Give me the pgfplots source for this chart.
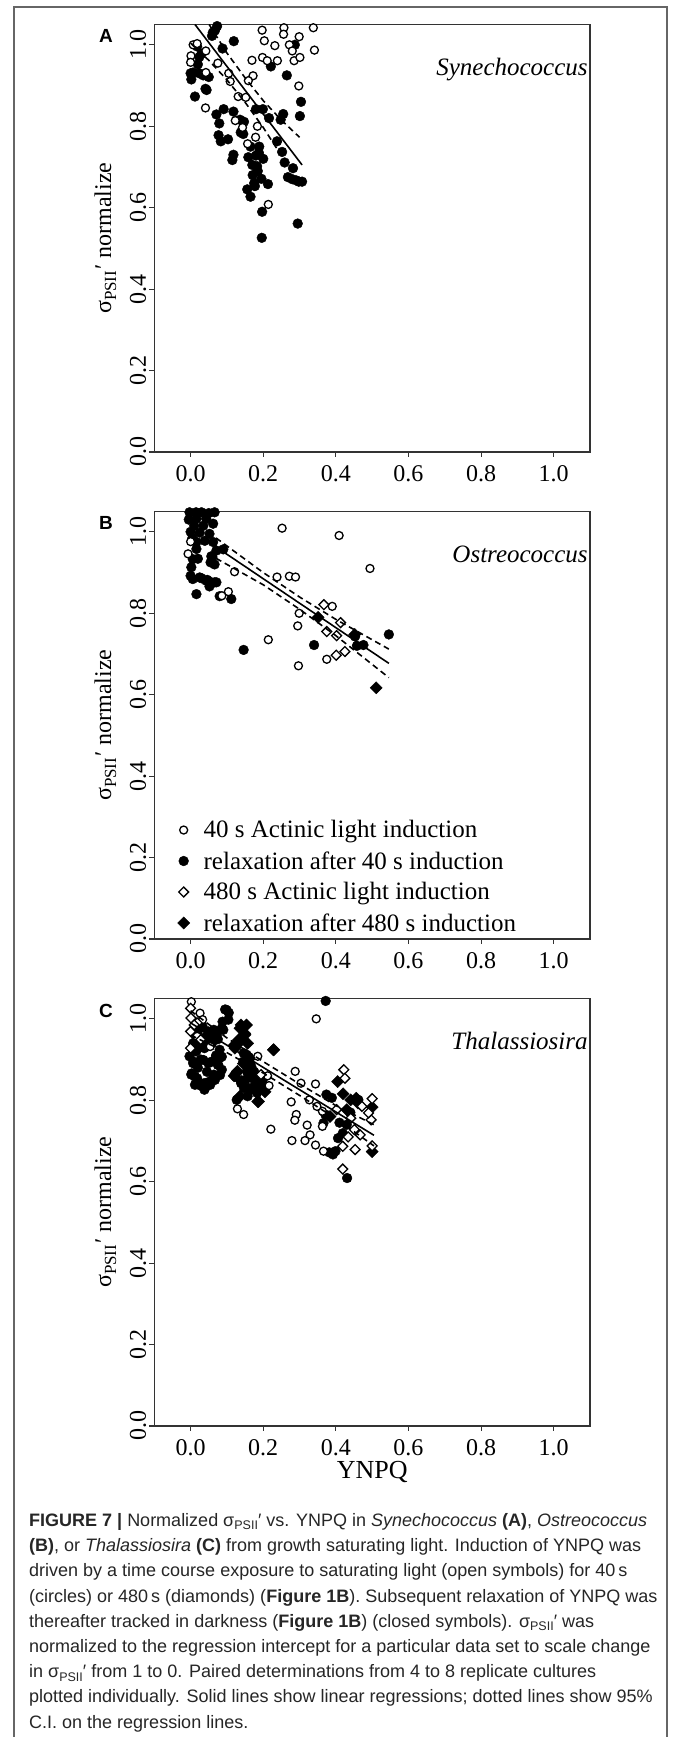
\documentclass[border=0pt]{standalone}
\usepackage{fontspec}
\setmainfont{Liberation Serif}
\newfontfamily\capfont{Liberation Sans}
\usepackage{pgfplots}
\pgfplotsset{compat=1.18}

\newcommand\sps{σ\raisebox{-3.5pt}{\fontsize{12.5}{12.5}\selectfont PSII}′}
\newcommand\spl{σ\raisebox{-5pt}{\fontsize{17}{17}\selectfont PSII}\kern1pt′}

\pgfplotsset{
 panel/.style={
  scale only axis, width=435.7pt, height=427.5pt,
  xmin=-0.1, xmax=1.1, ymin=0, ymax=1.05,
  clip mode=individual,
  xtick={0,0.2,0.4,0.6,0.8,1.0},
  xticklabels={0.0,0.2,0.4,0.6,0.8,1.0},
  ytick={0,0.2,0.4,0.6,0.8,1.0},
  yticklabels={0.0,0.2,0.4,0.6,0.8,1.0},
  xtick pos=lower, ytick pos=left,
  tick align=outside, major tick length=5pt,
  every tick/.style={black!80, line width=1.1pt},
  axis line style={black!80, line width=1.2pt},
  xticklabel style={font=\fontsize{24}{24}\selectfont, inner sep=8pt},
  yticklabel style={font=\fontsize{24}{24}\selectfont, rotate=90, anchor=south, inner sep=3pt},
  ylabel={\spl\ normalize},
  ylabel style={at={(axis description cs:-0.112,0.5)}, anchor=center, font=\fontsize{24}{24}\selectfont},
 },
 oc/.style={only marks, mark=*, mark size=4.0pt, mark options={draw=black, fill=white, line width=1.3pt}},
 fc/.style={only marks, mark=*, mark size=4.9pt, mark options={draw=black, fill=black, line width=0.4pt}},
 od/.style={only marks, mark=square*, mark size=3.5pt, mark options={rotate=45, draw=black, fill=white, line width=1.3pt}},
 fd/.style={only marks, mark=square*, mark size=4.3pt, mark options={rotate=45, draw=black, fill=black, line width=0.4pt}},
 reg/.style={black, line width=1.6pt, no marks},
 ci/.style={black, line width=1.6pt, dash pattern=on 6pt off 4pt, no marks},
}

\begin{document}
\begin{tikzpicture}[x=1pt,y=1pt]
\path[use as bounding box, fill=white] (0pt,0pt) rectangle (672pt,1737pt);
\draw[line width=1.3pt, black!60] (14pt,-5pt) -- (14pt,1730pt) -- (667pt,1730pt) -- (667pt,-5pt);

% ---------------- Panel A ----------------
\begin{axis}[panel, at={(154.3pt,1285pt)}, anchor=south west]
\addplot[fc] coordinates {
(0.000,0.930) (0.002,0.915) (0.012,0.873) (0.020,0.952) (0.024,0.970) (0.030,0.978)
(0.018,0.996) (0.035,0.925) (0.041,0.892) (0.050,0.921) (0.059,1.022) (0.067,1.035)
(0.073,1.046) (0.088,0.991) (0.119,1.009) (0.071,0.829) (0.079,0.807) (0.077,0.778)
(0.083,0.763) (0.091,0.842) (0.103,0.768) (0.118,0.836) (0.118,0.730) (0.115,0.717)
(0.136,0.816) (0.138,0.785) (0.147,0.811) (0.156,0.645) (0.165,0.627) (0.171,0.680)
(0.159,0.724) (0.165,0.750) (0.180,0.728) (0.183,0.702) (0.189,0.750) (0.195,0.671)
(0.177,0.653) (0.200,0.720) (0.213,0.658) (0.197,0.590) (0.196,0.526) (0.180,0.842)
(0.199,0.842) (0.216,0.820) (0.221,0.947) (0.238,0.763) (0.252,0.737) (0.259,0.711)
(0.248,0.816) (0.265,0.925) (0.268,0.675) (0.282,0.697) (0.287,1.000) (0.291,0.667)
(0.301,0.825) (0.304,0.860) (0.307,0.664) (0.295,0.561) (0.007,0.932) (0.024,0.930)
(0.044,0.889) (0.061,1.030) (0.145,0.781) (0.175,0.660) (0.185,0.690) (0.298,0.664)
(0.280,0.670) (0.255,0.830) (0.170,0.705) (0.188,0.735)
};
\addplot[oc] coordinates {
(0.001,0.973) (0.000,0.957) (0.007,1.000) (0.018,1.003) (0.042,0.985) (0.042,0.932)
(0.041,0.845) (0.075,0.955) (0.105,0.930) (0.109,0.910) (0.131,0.873) (0.152,0.871)
(0.123,0.814) (0.143,0.797) (0.157,0.757) (0.179,0.773) (0.184,0.800) (0.169,0.962)
(0.172,0.924) (0.197,1.036) (0.203,1.010) (0.198,0.969) (0.211,0.961) (0.232,0.998)
(0.239,0.961) (0.257,1.042) (0.256,1.026) (0.272,1.000) (0.280,0.985) (0.285,0.961)
(0.299,1.020) (0.301,0.969) (0.298,0.899) (0.338,1.042) (0.341,0.987) (0.214,0.608)
(0.159,0.912)
};
\addplot[reg] coordinates {(0.012,1.050) (0.307,0.705)};
\addplot[ci] coordinates {(0.051,1.050) (0.10,0.980) (0.15,0.919) (0.20,0.863) (0.25,0.815) (0.30,0.773)};
\addplot[ci] coordinates {(0.0,1.004) (0.05,0.962) (0.10,0.914) (0.15,0.859) (0.20,0.797) (0.25,0.728)};
\node[anchor=base east, inner sep=0pt, font=\itshape\fontsize{25}{25}\selectfont] at (axis description cs:0.995,0.881) {Synechococcus};
\node[font=\capfont\bfseries\fontsize{19}{19}\selectfont] at (axis description cs:-0.111,0.972) {A};
\end{axis}

% ---------------- Panel B ----------------
\begin{axis}[panel, at={(154.3pt,798pt)}, anchor=south west,
  legend style={at={(axis description cs:0.053,0.010)}, anchor=south west, draw=none, fill=none,
    inner sep=0pt, font=\fontsize{25}{25}\selectfont, row sep=8pt},
  legend image code/.code={\draw[#1] plot coordinates {(0pt,0pt)}; \path[draw=none, fill=none] (-5pt,-5pt) -- (18pt,5pt);},
  legend cell align=left]
\addlegendimage{oc}\addlegendentry{40 s Actinic light induction}
\addlegendimage{fc}\addlegendentry{relaxation after 40 s induction}
\addlegendimage{od}\addlegendentry{480 s Actinic light induction}
\addlegendimage{fd}\addlegendentry{relaxation after 480 s induction}
\addplot[fc, forget plot] coordinates {
(-0.003,1.048) (0.015,1.048) (0.030,1.048) (0.050,1.046) (0.066,1.048)
(-0.005,1.030) (0.016,1.032) (0.043,1.032) (0.062,1.020)
(0.000,1.000) (0.025,0.998) (0.052,0.995) (0.010,1.015) (0.035,1.015)
(0.016,0.975) (0.039,0.978) (0.062,0.975) (0.005,0.985)
(0.071,0.954) (0.090,0.957) (0.057,0.940) (0.066,0.920) (0.055,0.925) (0.060,0.938)
(0.006,0.933) (0.002,0.913) (0.006,0.884) (0.020,0.934) (0.016,0.958)
(0.025,0.888) (0.043,0.880) (0.066,0.876) (0.030,0.886) (0.046,0.882) (0.057,0.876)
(0.071,0.876) (0.052,0.866) (0.080,0.842) (0.016,0.847) (0.112,0.835) (0.000,0.892)
(0.146,0.710) (0.340,0.722) (0.453,0.743) (0.458,0.720) (0.476,0.722) (0.546,0.748)
};
\addplot[fd, forget plot] coordinates {(0.351,0.790) (0.511,0.617) (0.452,0.748)};
\addplot[oc, forget plot] coordinates {
(0.252,1.009) (0.409,0.991) (0.494,0.910) (0.121,0.902) (0.238,0.889) (0.272,0.891)
(0.289,0.889) (0.299,0.800) (0.295,0.769) (0.214,0.735) (0.297,0.671) (0.375,0.687)
(0.390,0.817) (0.104,0.853) (0.086,0.843) (-0.007,0.946) (0.000,0.976)
};
\addplot[od, forget plot] coordinates {
(0.367,0.821) (0.413,0.777) (0.375,0.755) (0.402,0.745) (0.401,0.697) (0.425,0.706)
};
\addplot[reg, forget plot] coordinates {(0.05,0.975) (0.546,0.677)};
\addplot[ci, forget plot] coordinates {(0.07,0.985) (0.2,0.900) (0.3,0.840) (0.4,0.785) (0.546,0.712)};
\addplot[ci, forget plot] coordinates {(0.07,0.935) (0.2,0.870) (0.3,0.810) (0.4,0.745) (0.546,0.642)};
\node[anchor=base east, inner sep=0pt, font=\itshape\fontsize{25}{25}\selectfont] at (axis description cs:0.995,0.881) {Ostreococcus};
\node[font=\capfont\bfseries\fontsize{19}{19}\selectfont] at (axis description cs:-0.111,0.972) {B};
\end{axis}

% ---------------- Panel C ----------------
\begin{axis}[panel, at={(154.3pt,311pt)}, anchor=south west,
  xlabel={YNPQ},
  xlabel style={at={(axis description cs:0.5,-0.1076)}, anchor=center, font=\fontsize{26}{26}\selectfont}]
\addplot[fc] coordinates {
(0.095,1.023) (0.105,1.015) (0.088,0.993) (0.090,0.973) (0.064,0.973) (0.064,0.965)
(0.043,0.957) (0.033,0.981) (0.018,0.965) (0.007,0.940) (0.038,0.928) (0.059,0.940)
(0.080,0.924) (-0.003,0.908) (0.007,0.891) (0.028,0.900) (0.049,0.891) (0.075,0.887)
(0.080,0.904) (0.086,0.875) (0.002,0.863) (0.018,0.854) (0.038,0.842) (0.059,0.850)
(0.064,0.863) (0.028,0.836) (0.012,0.838) (0.038,0.826) (0.050,0.845) (0.020,0.880)
(0.045,0.870) (0.070,0.910) (0.015,0.920) (0.025,0.945) (0.050,0.955) (0.075,0.950)
(0.124,0.858) (0.139,0.842) (0.155,0.871) (0.162,0.904) (0.146,0.916) (0.167,0.883)
(0.178,0.850) (0.194,0.838) (0.167,0.826) (0.147,0.830) (0.157,0.810) (0.127,0.801)
(0.183,0.818) (0.150,0.850) (0.175,0.870) (0.374,0.814) (0.389,0.806) (0.371,0.765)
(0.366,0.744) (0.382,0.672) (0.392,0.667) (0.399,0.675) (0.406,0.707) (0.419,0.719)
(0.431,0.609) (0.372,1.044) (0.462,0.801) (0.430,0.740) (0.440,0.770) (0.410,0.745)
(0.012,0.858) (0.026,0.838) (0.040,0.830) (0.054,0.838) (0.067,0.850) (0.081,0.862)
(0.003,0.866) (0.008,0.895) (0.035,0.899) (0.058,0.895) (0.076,0.887) (0.086,0.907)
(0.017,0.924) (0.044,0.936) (0.063,0.948) (0.072,0.961) (0.049,0.969) (0.099,1.022)
(0.104,0.998) (0.086,0.977) (0.026,0.977) (0.012,0.961) (0.154,0.912) (0.164,0.887)
(0.173,0.871) (0.182,0.846) (0.159,0.830) (0.191,0.834) (0.200,0.854) (0.145,0.895)
};
\addplot[fd] coordinates {
(0.139,0.985) (0.149,0.964) (0.136,0.944) (0.157,0.940) (0.129,0.871) (0.120,0.860)
(0.136,0.810) (0.185,0.797) (0.229,0.924) (0.120,0.935) (0.163,0.863) (0.198,0.842)
(0.405,0.846) (0.420,0.816) (0.456,0.805) (0.461,0.793) (0.430,0.777) (0.500,0.783)
(0.500,0.674) (0.384,0.760) (0.441,0.801) (0.160,0.900) (0.175,0.835) (0.145,0.890)
(0.136,0.977) (0.150,0.961) (0.132,0.948) (0.154,0.985) (0.228,0.924) (0.125,0.866)
(0.141,0.846) (0.187,0.797) (0.205,0.821) (0.164,0.858) (0.122,0.928)
};
\addplot[oc] coordinates {
(0.002,1.042) (0.346,1.000) (0.288,0.871) (0.304,0.842) (0.344,0.840) (0.277,0.796)
(0.291,0.765) (0.287,0.751) (0.221,0.729) (0.321,0.739) (0.329,0.715) (0.279,0.701)
(0.315,0.701) (0.344,0.690) (0.366,0.675) (0.129,0.779) (0.146,0.765) (0.185,0.908)
(0.212,0.860) (0.216,0.836) (0.363,0.773) (0.363,0.736) (0.348,0.785) (0.327,0.801)
(0.026,1.014) (0.033,0.998) (0.054,0.932) (0.018,0.957)
};
\addplot[od] coordinates {
(0.000,1.026) (0.001,1.002) (0.000,0.969) (0.000,0.928) (0.018,0.990) (0.028,0.949)
(0.422,0.875) (0.425,0.854) (0.402,0.777) (0.441,0.756) (0.472,0.785) (0.500,0.804)
(0.497,0.752) (0.490,0.769) (0.467,0.715) (0.434,0.710) (0.451,0.728) (0.419,0.687)
(0.453,0.679) (0.419,0.631) (0.500,0.688) (0.194,0.863) (0.010,0.985)
};
\addplot[reg] coordinates {(0.0,0.990) (0.505,0.714)};
\addplot[ci] coordinates {(0.0,1.020) (0.1,0.953) (0.2,0.895) (0.3,0.840) (0.4,0.787) (0.505,0.740)};
\addplot[ci] coordinates {(0.0,0.960) (0.1,0.917) (0.2,0.867) (0.3,0.812) (0.4,0.755) (0.505,0.688)};
\node[anchor=base east, inner sep=0pt, font=\itshape\fontsize{25}{25}\selectfont] at (axis description cs:0.995,0.881) {Thalassiosira};
\node[font=\capfont\bfseries\fontsize{19}{19}\selectfont] at (axis description cs:-0.111,0.972) {C};
\end{axis}

% ---------------- Caption ----------------
\begin{scope}[every node/.style={anchor=base west, inner sep=0pt, text=black!85, font=\capfont\fontsize{18}{18}\selectfont}]
\node at (29pt,210.5pt) {{\bfseries FIGURE 7 |} Normalized \sps{} vs. YNPQ in \textit{Synechococcus} {\bfseries (A)}, \textit{Ostreococcus}};
\node at (29pt,185.3pt) {{\bfseries (B)}, or \textit{Thalassiosira} {\bfseries (C)} from growth saturating light. Induction of YNPQ was};
\node at (29pt,160.1pt) {driven by a time course exposure to saturating light (open symbols) for 40\,s};
\node at (29pt,134.9pt) {(circles) or 480\,s (diamonds) ({\bfseries Figure 1B}). Subsequent relaxation of YNPQ was};
\node at (29pt,109.7pt) {thereafter tracked in darkness ({\bfseries Figure 1B}) (closed symbols). \sps{} was};
\node at (29pt,84.5pt) {normalized to the regression intercept for a particular data set to scale change};
\node at (29pt,59.3pt) {in \sps{} from 1 to 0. Paired determinations from 4 to 8 replicate cultures};
\node at (29pt,34.1pt) {plotted individually. Solid lines show linear regressions; dotted lines show 95\%};
\node at (29pt,8.9pt) {C.I. on the regression lines.};
\end{scope}
\end{tikzpicture}
\end{document}
